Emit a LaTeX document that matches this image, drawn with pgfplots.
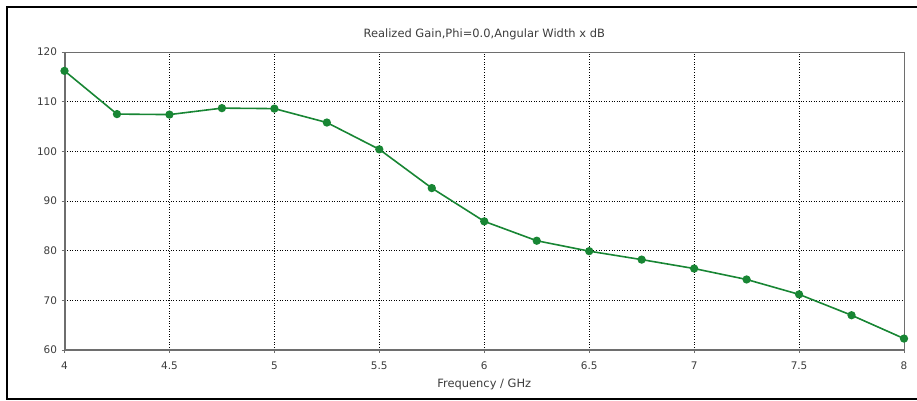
\documentclass[border=0pt]{standalone}
\usepackage{pgfplots}
\pgfplotsset{compat=1.18}
\usepackage{fontspec}
\setmainfont{DejaVu Sans}
\definecolor{linegreen}{RGB}{24,134,52}
\definecolor{txt}{RGB}{60,60,60}
\definecolor{axgray}{RGB}{110,110,110}
\begin{document}
\begin{tikzpicture}[x=1bp,y=1bp]
\path[use as bounding box] (0bp,0bp) rectangle (917bp,401bp);
\draw[line width=2.2bp,black] (7bp,2bp) rectangle (920bp,394bp);
\begin{axis}[
  at={(64.5bp,51bp)}, anchor=south west,
  scale only axis, width=839.5bp, height=298bp,
  xmin=4, xmax=8, ymin=60, ymax=120,
  xtick={4,4.5,...,8}, ytick={60,70,...,120},
  grid=major,
  major grid style={black, line width=0.6bp, dotted},
  axis line style={axgray, line width=0.8bp},
  tick style={axgray, line width=0.8bp},
  tick align=outside, major tick length=3bp,
  xtick pos=bottom, ytick pos=left,
  every tick label/.append style={font=\fontsize{10.5}{12}\selectfont, text=txt},
  /pgf/number format/assume math mode=true,
  xticklabel style={yshift=-5bp},
  yticklabel style={xshift=-1bp},
  title={Realized Gain,Phi=0.0,Angular Width x dB},
  title style={font=\fontsize{11.5}{13}\selectfont, text=txt, at={(0.5,1)}, anchor=base, yshift=9bp},
  xlabel={Frequency / GHz},
  xlabel style={font=\fontsize{11.5}{13}\selectfont, text=txt, at={(0.5,0)}, anchor=base, yshift=-38bp},
]
\draw[axgray, line width=2bp] (axis cs:4,60) -- (axis cs:8,60);
\draw[axgray, line width=2bp] (axis cs:4,60) -- (axis cs:4,120);
\addplot[linegreen, line width=1.6bp, mark=*, mark size=3.3bp, mark options={fill=linegreen, draw=linegreen}] coordinates {
(4,116.2) (4.25,107.5) (4.5,107.4) (4.75,108.7) (5,108.6) (5.25,105.8) (5.5,100.4) (5.75,92.6) (6,85.9) (6.25,82.0) (6.5,79.9) (6.75,78.2) (7,76.4) (7.25,74.2) (7.5,71.2) (7.75,67.0) (8,62.3)
};
\end{axis}
\end{tikzpicture}
\end{document}
